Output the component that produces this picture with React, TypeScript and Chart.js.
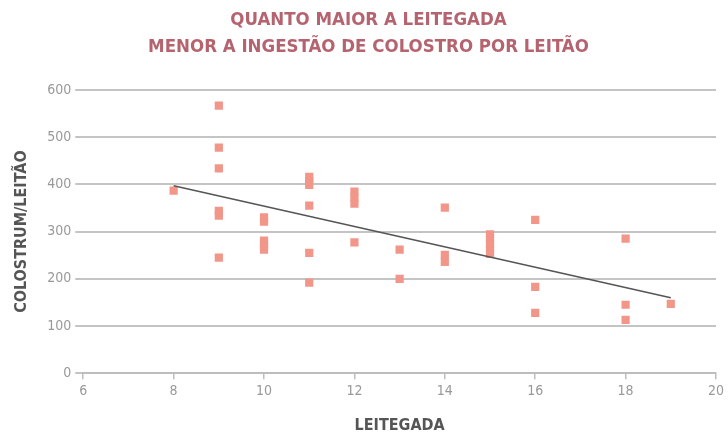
import React, { useEffect, useRef } from "react";
import { Chart, registerables } from "chart.js";

Chart.register(...registerables);

const titleLines = ["QUANTO MAIOR A LEITEGADA", "MENOR A INGESTÃO DE COLOSTRO POR LEITÃO"];
const xTitle = "LEITEGADA";
const yTitle = "COLOSTRUM/LEITÃO";

const litterSize = [
  8,
  9, 9, 9, 9, 9, 9,
  10, 10, 10, 10, 10,
  11, 11, 11, 11, 11, 11,
  12, 12, 12, 12,
  13, 13,
  14, 14, 14,
  15, 15, 15, 15, 15,
  16, 16, 16,
  18, 18, 18,
  19,
];
const colostrum = [
  387,
  567, 478, 434, 344, 334, 245,
  330, 321, 281, 271, 262,
  416, 407, 399, 355, 255, 192,
  385, 372, 359, 277,
  262, 200,
  351, 251, 236,
  294, 284, 274, 263, 253,
  325, 183, 128,
  285, 145, 113,
  147,
];
const trendX = [8, 19];
const trendY = [397, 160];

const FONT = "'DejaVu Sans Condensed', 'Roboto', sans-serif";

export default function App() {
  const ref = useRef<HTMLCanvasElement | null>(null);
  useEffect(() => {
    if (!ref.current) return;
    const chart = new Chart(ref.current, {
      type: "scatter",
      data: {
        datasets: [
          {
            type: "scatter",
            data: litterSize.map((x, i) => ({ x, y: colostrum[i] })),
            pointStyle: "rect",
            pointRadius: 5.8,
            backgroundColor: "#F2968A",
            borderWidth: 0,
            order: 2,
          },
          {
            type: "line",
            data: trendX.map((x, i) => ({ x, y: trendY[i] })),
            borderColor: "#555555",
            borderWidth: 1.5,
            pointRadius: 0,
            fill: false,
            order: 1,
          } as any,
        ],
      },
      options: {
        animation: false,
        responsive: true,
        maintainAspectRatio: false,
        layout: { padding: { left: 12, right: 3, top: 7, bottom: 0 } },
        plugins: {
          legend: { display: false },
          tooltip: { enabled: false },
          title: {
            display: true,
            text: titleLines,
            color: "#B5636F",
            font: { family: FONT, size: 18.5, weight: "bold", lineHeight: 1.46 },
            padding: { top: 0, bottom: 29 },
          },
        },
        scales: {
          x: {
            type: "linear",
            min: 6,
            max: 20,
            ticks: {
              stepSize: 2,
              color: "#999999",
              font: { family: FONT, size: 14 },
              padding: 4,
            },
            grid: {
              drawOnChartArea: false,
              drawTicks: true,
              tickLength: 6,
              color: "#bdbdbd",
              lineWidth: 1.5,
            },
            border: { display: true, color: "#bdbdbd", width: 2 },
            title: {
              display: true,
              text: xTitle,
              color: "#555555",
              font: { family: FONT, size: 16, weight: "bold", lineHeight: 1 },
              padding: { top: 14, bottom: 0 },
            },
          },
          y: {
            type: "linear",
            min: 0,
            max: 600,
            ticks: {
              stepSize: 100,
              color: "#999999",
              font: { family: FONT, size: 14 },
              padding: 4,
            },
            grid: {
              color: "#c4c4c4",
              lineWidth: 2,
              tickLength: 8,
              drawTicks: true,
            },
            border: { display: false },
            title: {
              display: true,
              text: yTitle,
              color: "#555555",
              font: { family: FONT, size: 16, weight: "bold" },
              padding: { top: 0, bottom: 12 },
            },
          },
        },
      },
    });
    return () => chart.destroy();
  }, []);
  return (
    <div style={{ position: "fixed", left: 0, top: 0, width: 728, height: 434, background: "#fff" }}>
      <canvas ref={ref} />
    </div>
  );
}
